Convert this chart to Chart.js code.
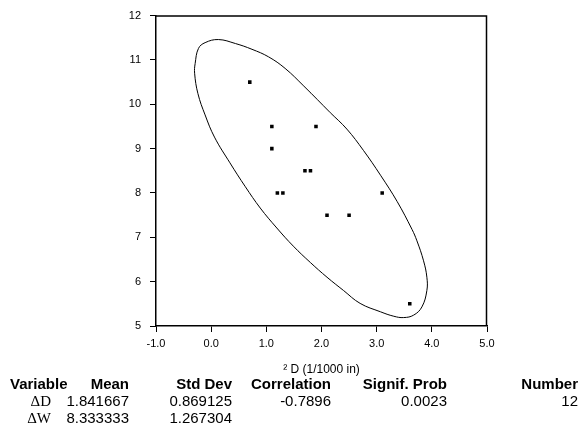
<!DOCTYPE html>
<html>
<head>
<meta charset="utf-8">
<script src="https://cdn.jsdelivr.net/npm/chart.js@4"></script>
<style>
  html, body { margin:0; padding:0; background:#fff; }
  #wrap { position:relative; width:579px; height:437px; overflow:hidden; }
  canvas { position:absolute; left:0; top:0; }
  .t { position:absolute; white-space:nowrap; font-family:"Liberation Sans", Arial, sans-serif; font-size:15px; line-height:16px; color:#000; }
  .h { font-weight:bold; }
  .g { font-family:"Liberation Serif", "Times New Roman", serif; }
</style>
</head>
<body>
<div id="wrap">
  <canvas id="c" width="579" height="437"></canvas>
</div>
<script>
// ---- data ----
const deltaD = [0.7, 1.1, 1.9, 1.1, 1.7, 1.8, 1.2, 1.3, 3.1, 2.1, 2.5, 3.6];
const deltaW = [10.5, 9.5, 9.5, 9.0, 8.5, 8.5, 8.0, 8.0, 8.0, 7.5, 7.5, 5.5];

// density ellipse outline
const ellipseX = [2.16, 2.46, 2.76, 3.07, 3.37, 3.64, 3.73, 3.85, 3.91, 3.91, 3.82, 3.67, 3.49, 3.31, 3.07, 2.70, 2.40, 2.10, 1.80, 1.49, 1.19, 0.89, 0.62, 0.34, 0.06, -0.11, -0.24, -0.30, -0.29, -0.23, -0.11, 0.13, 0.44, 0.74, 1.04, 1.34, 1.68, 2.16];
const ellipseY = [9.81, 9.44, 8.96, 8.40, 7.81, 7.18, 6.92, 6.47, 6.10, 5.80, 5.43, 5.245, 5.19, 5.22, 5.32, 5.51, 5.80, 6.10, 6.43, 6.80, 7.21, 7.66, 8.14, 8.68, 9.26, 9.76, 10.24, 10.70, 10.92, 11.26, 11.39, 11.46, 11.37, 11.24, 11.07, 10.81, 10.41, 9.81];

const xTickLabels = ['-1.0', '0.0', '1.0', '2.0', '3.0', '4.0', '5.0'];
const yTickLabels = ['5', '6', '7', '8', '9', '10', '11', '12'];
const xAxisTitle = '² D (1/1000 in)';

const tableHeaders = ['Variable', 'Mean', 'Std Dev', 'Correlation', 'Signif. Prob', 'Number'];
const rowLabels = ['ΔD', 'ΔW'];
const means = ['1.841667', '8.333333'];
const stdDevs = ['0.869125', '1.267304'];
const correlation = ['-0.7896'];
const signifProb = ['0.0023'];
const numberObs = ['12'];

// ---- chart ----
const pts = deltaD.map((x, i) => ({x: x, y: deltaW[i]}));
const ell = ellipseX.map((x, i) => ({x: x, y: ellipseY[i]}));

Chart.defaults.font.family = '"Liberation Sans", Arial, sans-serif';
Chart.defaults.color = '#000';

// closes the plot box on the top and right sides, along the scale limits
const frameBox = {
  id: 'frameBox',
  afterDraw(chart) {
    const a = chart.chartArea;
    const ctx = chart.ctx;
    ctx.save();
    ctx.strokeStyle = 'rgb(0,0,0)';
    ctx.lineWidth = 1.5;
    ctx.beginPath();
    ctx.moveTo(a.left, a.top + 0.5);
    ctx.lineTo(a.right - 0.5, a.top + 0.5);
    ctx.lineTo(a.right - 0.5, a.bottom);
    ctx.stroke();
    ctx.restore();
  }
};

new Chart(document.getElementById('c'), {
  type: 'scatter',
  data: {
    datasets: [
      { data: ell, showLine: true, tension: 0.4, borderColor: '#000', borderWidth: 1,
        pointRadius: 0, fill: false },
      { data: pts, pointStyle: 'rect', pointRadius: 2.5, backgroundColor: '#000',
        borderWidth: 0 }
    ]
  },
  options: {
    responsive: false,
    animation: false,
    layout: { padding: { left: 0, right: 92, top: 12, bottom: 60 } },
    plugins: { legend: { display: false }, tooltip: { enabled: false } },
    scales: {
      x: {
        type: 'linear', min: -1, max: 5, position: 'bottom',
        afterFit: s => { s.height = 51; },
        ticks: { stepSize: 1, padding: 5, font: { size: 11 },
          callback: (v) => { const i = Math.round(v + 1); return xTickLabels[i]; } },
        grid: { drawOnChartArea: false, drawTicks: true, tickLength: 6, color: '#000' },
        border: { display: true, color: '#000', width: 1.5 },
        title: { display: true, text: xAxisTitle, font: { size: 12 }, padding: 0 }
      },
      y: {
        type: 'linear', min: 5, max: 12, position: 'left',
        afterFit: s => { s.width = 156; },
        ticks: { stepSize: 1, padding: 9, font: { size: 11 },
          callback: (v) => yTickLabels[Math.round(v - 5)] },
        grid: { drawOnChartArea: false, drawTicks: true, tickLength: 6, color: '#000' },
        border: { display: true, color: '#000', width: 1.5 }
      }
    }
  },
  plugins: [frameBox]
});

// ---- statistics table (real text) ----
const wrap = document.getElementById('wrap');
function put(text, rightEdge, centerY, cls, leftEdge) {
  const d = document.createElement('div');
  d.className = 't ' + (cls || '');
  d.textContent = text;
  if (leftEdge !== undefined) d.style.left = leftEdge + 'px';
  else d.style.right = (579 - rightEdge) + 'px';
  d.style.top = (centerY - 8) + 'px';
  wrap.appendChild(d);
}
const colRight = [71, 129, 232, 331, 447, 578];
const rowY = [384, 401, 418];
tableHeaders.forEach((h, i) => put(h, colRight[i], rowY[0], 'h', i === 0 ? 10 : undefined));
rowLabels.forEach((r, i) => {
  put(r, 51, rowY[i + 1], 'g');
  put(means[i], colRight[1], rowY[i + 1]);
  put(stdDevs[i], colRight[2], rowY[i + 1]);
});
put(correlation[0], colRight[3], rowY[1]);
put(signifProb[0], colRight[4], rowY[1]);
put(numberObs[0], colRight[5], rowY[1]);
</script>
</body>
</html>
